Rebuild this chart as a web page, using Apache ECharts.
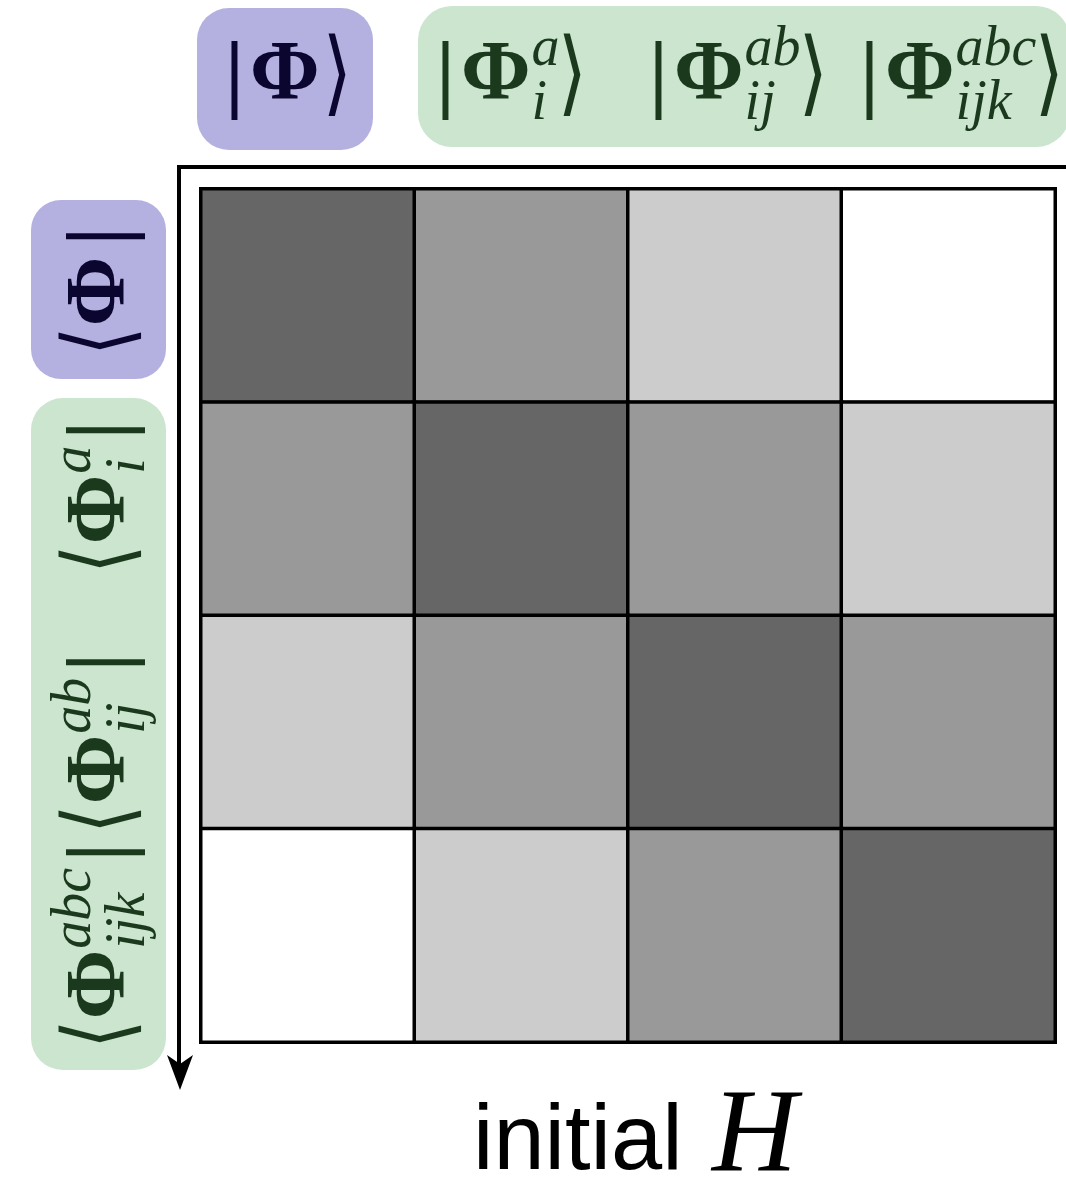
<!DOCTYPE html>
<html>
<head>
<meta charset="utf-8">
<script src="https://cdn.jsdelivr.net/npm/echarts@6/dist/echarts.min.js"></script>
<style>html,body{margin:0;padding:0;background:#fff;}#chart{width:1066px;height:1184px;}</style>
</head>
<body>
<div id="chart"></div>
<script>
// ---- data ----
const stateSymbol = 'Φ';
const supLabels = ['', 'a', 'ab', 'abc'];
const subLabels = ['', 'i', 'ij', 'ijk'];
const kets = ['|Φ⟩', '|Φ_i^a⟩', '|Φ_ij^ab⟩', '|Φ_ijk^abc⟩'];
const bras = ['⟨Φ|', '⟨Φ_i^a|', '⟨Φ_ij^ab|', '⟨Φ_ijk^abc|'];
// shade level of each matrix element (3 = darkest, 0 = white)
const shadeRows = [
  [3, 2, 1, 0],
  [2, 3, 2, 1],
  [1, 2, 3, 2],
  [0, 1, 2, 3]
];
const shadeColors = ['#ffffff', '#cccccc', '#999999', '#666666'];
const axisTitle = 'initial';
const axisSymbol = 'H';

// ---- build ----
const heatData = [];
shadeRows.forEach((row, r) => row.forEach((v, c) => heatData.push([c, r, v])));

const mctx = document.createElement('canvas').getContext('2d');
function tw(style, weight, size, family, s) {
  mctx.font = style + ' ' + weight + ' ' + size + 'px ' + family;
  return mctx.measureText(s).width;
}
const SERIF = '"Liberation Serif", "DejaVu Serif", serif';
const BRF = '"DejaVu Serif", "DejaVu Sans", serif';
const PHI = {st: 'normal', w: 'bold', s: 84, f: SERIF};
const SCR = {st: 'italic', w: 'normal', s: 56, f: SERIF};
const BAR = {st: 'normal', w: 'bold', s: 86, f: SERIF};
const BRK = {st: 'normal', w: 'normal', s: 76, f: BRF};

function T(str, F, x, y, color, sy, bg) {
  const st = {
    text: str, fontStyle: F.st, fontWeight: F.w, fontSize: F.s, fontFamily: F.f,
    fill: color, align: 'left', verticalAlign: 'middle'
  };
  if (bg) { st.stroke = bg; st.lineWidth = 2.2; st.strokeFirst = false; }
  return {type: 'text', x: x, y: y, silent: true, scaleY: sy || 1, style: st};
}
function W(F, s) { return tw(F.st, F.w, F.s, F.f, s); }

function buildLabel(kind, sup, sub, color, bg) {
  const ch = [];
  let x = 0;
  if (kind === 'ket') {
    ch.push(T('|', BAR, x, 3, color)); x += W(BAR, '|') + 6;
  } else {
    ch.push(T('⟨', BRK, x - 2, 4, color, 1.22, bg)); x += W(BRK, '⟨') - 2;
  }
  ch.push(T(stateSymbol, PHI, x, 1, color)); x += W(PHI, stateSymbol) + 1;
  if (sup || sub) {
    ch.push(T(sup, SCR, x, -26, color));
    ch.push(T(sub, SCR, x, 28, color));
    x += Math.max(W(SCR, sup), W(SCR, sub)) - 2;
  } else {
    x += 2;
  }
  if (kind === 'ket') {
    ch.push(T('⟩', BRK, x, 4, color, 1.22, bg));
  } else {
    x += 8;
    ch.push(T('|', BAR, x, 3, color));
  }
  return ch;
}

const PURPLE = '#b4b1e1', GREEN = '#cce5cf';
const PTXT = '#0b0630', GTXT = '#1b3a1d';

const graphics = [
  // boxes
  {type: 'rect', shape: {x: 197, y: 8, width: 176, height: 142, r: 32}, style: {fill: PURPLE}, silent: true},
  {type: 'rect', shape: {x: 418, y: 6, width: 652, height: 141, r: 34}, style: {fill: GREEN}, silent: true},
  {type: 'rect', shape: {x: 31, y: 200, width: 135, height: 179, r: 30}, style: {fill: PURPLE}, silent: true},
  {type: 'rect', shape: {x: 31, y: 398, width: 135, height: 672, r: 32}, style: {fill: GREEN}, silent: true},
  // axis lines
  {type: 'line', shape: {x1: 177, y1: 167, x2: 1066, y2: 167}, style: {stroke: '#000', lineWidth: 4}, silent: true},
  {type: 'line', shape: {x1: 179, y1: 165, x2: 179, y2: 1066}, style: {stroke: '#000', lineWidth: 4}, silent: true},
  {type: 'polygon', shape: {points: [[180, 1090], [167, 1055], [180, 1064], [193, 1055]]}, style: {fill: '#000'}, silent: true}
];

const ketPos = [[225, 76], [436, 76], [649, 76], [860, 76]];
const braPos = [[101, 354], [101, 572], [101, 832], [101, 1047]];
for (let i = 0; i < 4; i++) {
  const col = i === 0 ? PTXT : GTXT;
  const bg = i === 0 ? PURPLE : GREEN;
  graphics.push({type: 'group', x: ketPos[i][0], y: ketPos[i][1], children: buildLabel('ket', supLabels[i], subLabels[i], col, bg)});
  graphics.push({type: 'group', x: braPos[i][0], y: braPos[i][1], rotation: Math.PI / 2,
    children: buildLabel('bra', supLabels[i], subLabels[i], col, bg)});
}
// axis title "initial H"
graphics.push({type: 'text', x: 473, y: 1144, silent: true,
  style: {text: axisTitle, fontFamily: '"Liberation Sans", Arial, sans-serif', fontSize: 92, fill: '#000', align: 'left', verticalAlign: 'middle'}});
graphics.push({type: 'text', x: 712, y: 1139, silent: true,
  style: {text: axisSymbol, fontFamily: '"Liberation Serif", serif', fontStyle: 'italic', fontSize: 118, fill: '#000', align: 'left', verticalAlign: 'middle'}});

const chart = echarts.init(document.getElementById('chart'), null, {renderer: 'canvas'});
chart.setOption({
  animation: false,
  backgroundColor: '#ffffff',
  grid: {left: 201, top: 189, width: 854, height: 853},
  xAxis: {type: 'category', data: kets, show: false, position: 'top'},
  yAxis: {type: 'category', data: bras, show: false, inverse: true},
  visualMap: {
    type: 'piecewise', show: false, dimension: 2,
    pieces: shadeColors.map((c, i) => ({value: i, color: c}))
  },
  series: [{
    type: 'heatmap', data: heatData,
    itemStyle: {borderColor: '#000', borderWidth: 3.5},
    emphasis: {disabled: true},
    label: {show: false}
  }],
  graphic: graphics
});
</script>
</body>
</html>
